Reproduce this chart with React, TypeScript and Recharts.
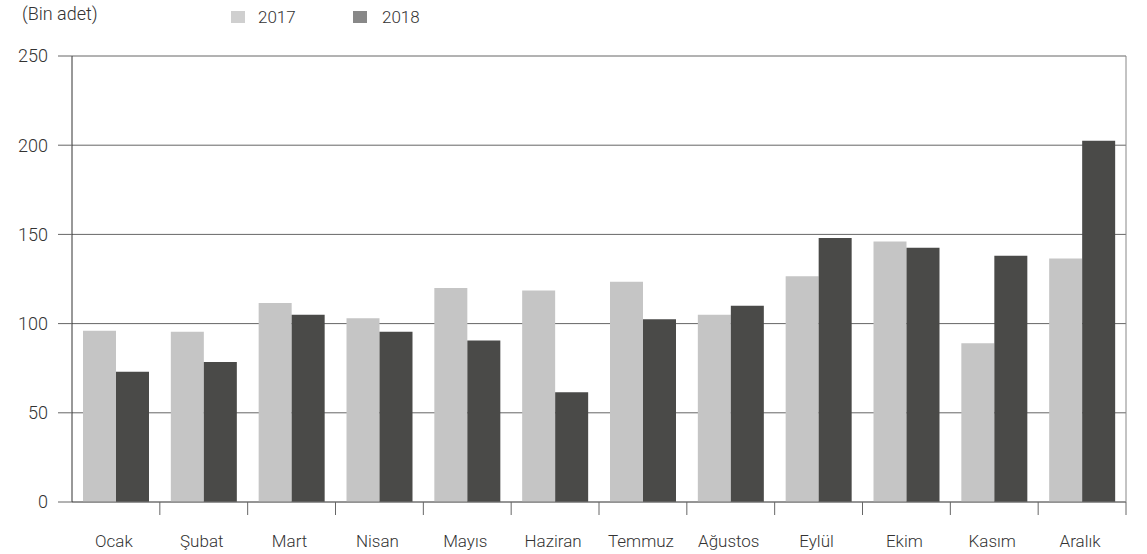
import { BarChart, Bar, XAxis, YAxis, CartesianGrid } from "recharts";

const months = [
  "Ocak", "Şubat", "Mart", "Nisan", "Mayıs", "Haziran",
  "Temmuz", "Ağustos", "Eylül", "Ekim", "Kasım", "Aralık",
];
const values2017 = [96, 95.5, 111.5, 103, 120, 118.5, 123.5, 105, 126.5, 146, 89, 136.5];
const values2018 = [73, 78.5, 105, 95.5, 90.5, 61.5, 102.5, 110, 148, 142.5, 138, 202.5];
const yTicks = [0, 50, 100, 150, 200, 250];

const data = months.map((m, i) => ({ month: m, y2017: values2017[i], y2018: values2018[i] }));

const W = 1147;
const H = 554;
const M = { top: 56, right: 0, bottom: 0, left: 0 };
const Y_W = 72;
const R_W = 21;
const BAND = (W - Y_W - R_W) / months.length;
const FONT = "Roboto, 'Noto Sans', sans-serif";

function MonthTick(props: any) {
  const { x, y, payload } = props;
  const edge = x + BAND / 2;
  return (
    <g>
      <line x1={edge} y1={y} x2={edge} y2={y + 13} stroke="#666" strokeWidth={1} />
      <text
        x={x - 2}
        y={y + 45}
        textAnchor="middle"
        fill="#333"
        fontSize={17}
        fontWeight={300}
        fontFamily={FONT}
      >
        {payload.value}
      </text>
    </g>
  );
}

export default function App() {
  return (
    <div style={{ position: "absolute", left: 0, top: 0, width: W, height: H, background: "#fff" }}>
      <BarChart width={W} height={H} data={data} margin={M} barGap={0} barSize={33}>
        <CartesianGrid vertical={false} stroke="#666" yAxisId="left" />
        <XAxis
          dataKey="month"
          height={52}
          axisLine={{ stroke: "#777" }}
          tickLine={false}
          tickSize={0}
          tickMargin={0}
          interval={0}
          tick={<MonthTick />}
        />
        <YAxis
          yAxisId="left"
          width={Y_W}
          domain={[0, 250]}
          ticks={yTicks}
          axisLine={{ stroke: "#333" }}
          tickLine={{ stroke: "#666" }}
          tickSize={14}
          tickMargin={10}
          tick={{ fill: "#333", fontSize: 18, fontWeight: 300, fontFamily: FONT }}
        />
        <YAxis
          yAxisId="right"
          orientation="right"
          width={R_W}
          domain={[0, 250]}
          ticks={yTicks}
          tick={false}
          tickLine={false}
          axisLine={{ stroke: "#888" }}
        />
        <Bar yAxisId="left" dataKey="y2017" fill="#c5c5c5" isAnimationActive={false} />
        <Bar yAxisId="left" dataKey="y2018" fill="#4a4a48" isAnimationActive={false} />
      </BarChart>
      <svg
        width={W}
        height={40}
        style={{ position: "absolute", left: 0, top: 0, pointerEvents: "none" }}
        fontFamily={FONT}
        fontSize={17}
        fontWeight={300}
      >
        <text x={22} y={20} fill="#333" fontSize={18}>(Bin adet)</text>
        <rect x={231} y={11} width={14} height={12} fill="#cfcfcf" />
        <text x={258} y={23} fill="#333">2017</text>
        <rect x={353} y={11} width={14} height={12} fill="#888" />
        <text x={382} y={23} fill="#333">2018</text>
      </svg>
    </div>
  );
}
